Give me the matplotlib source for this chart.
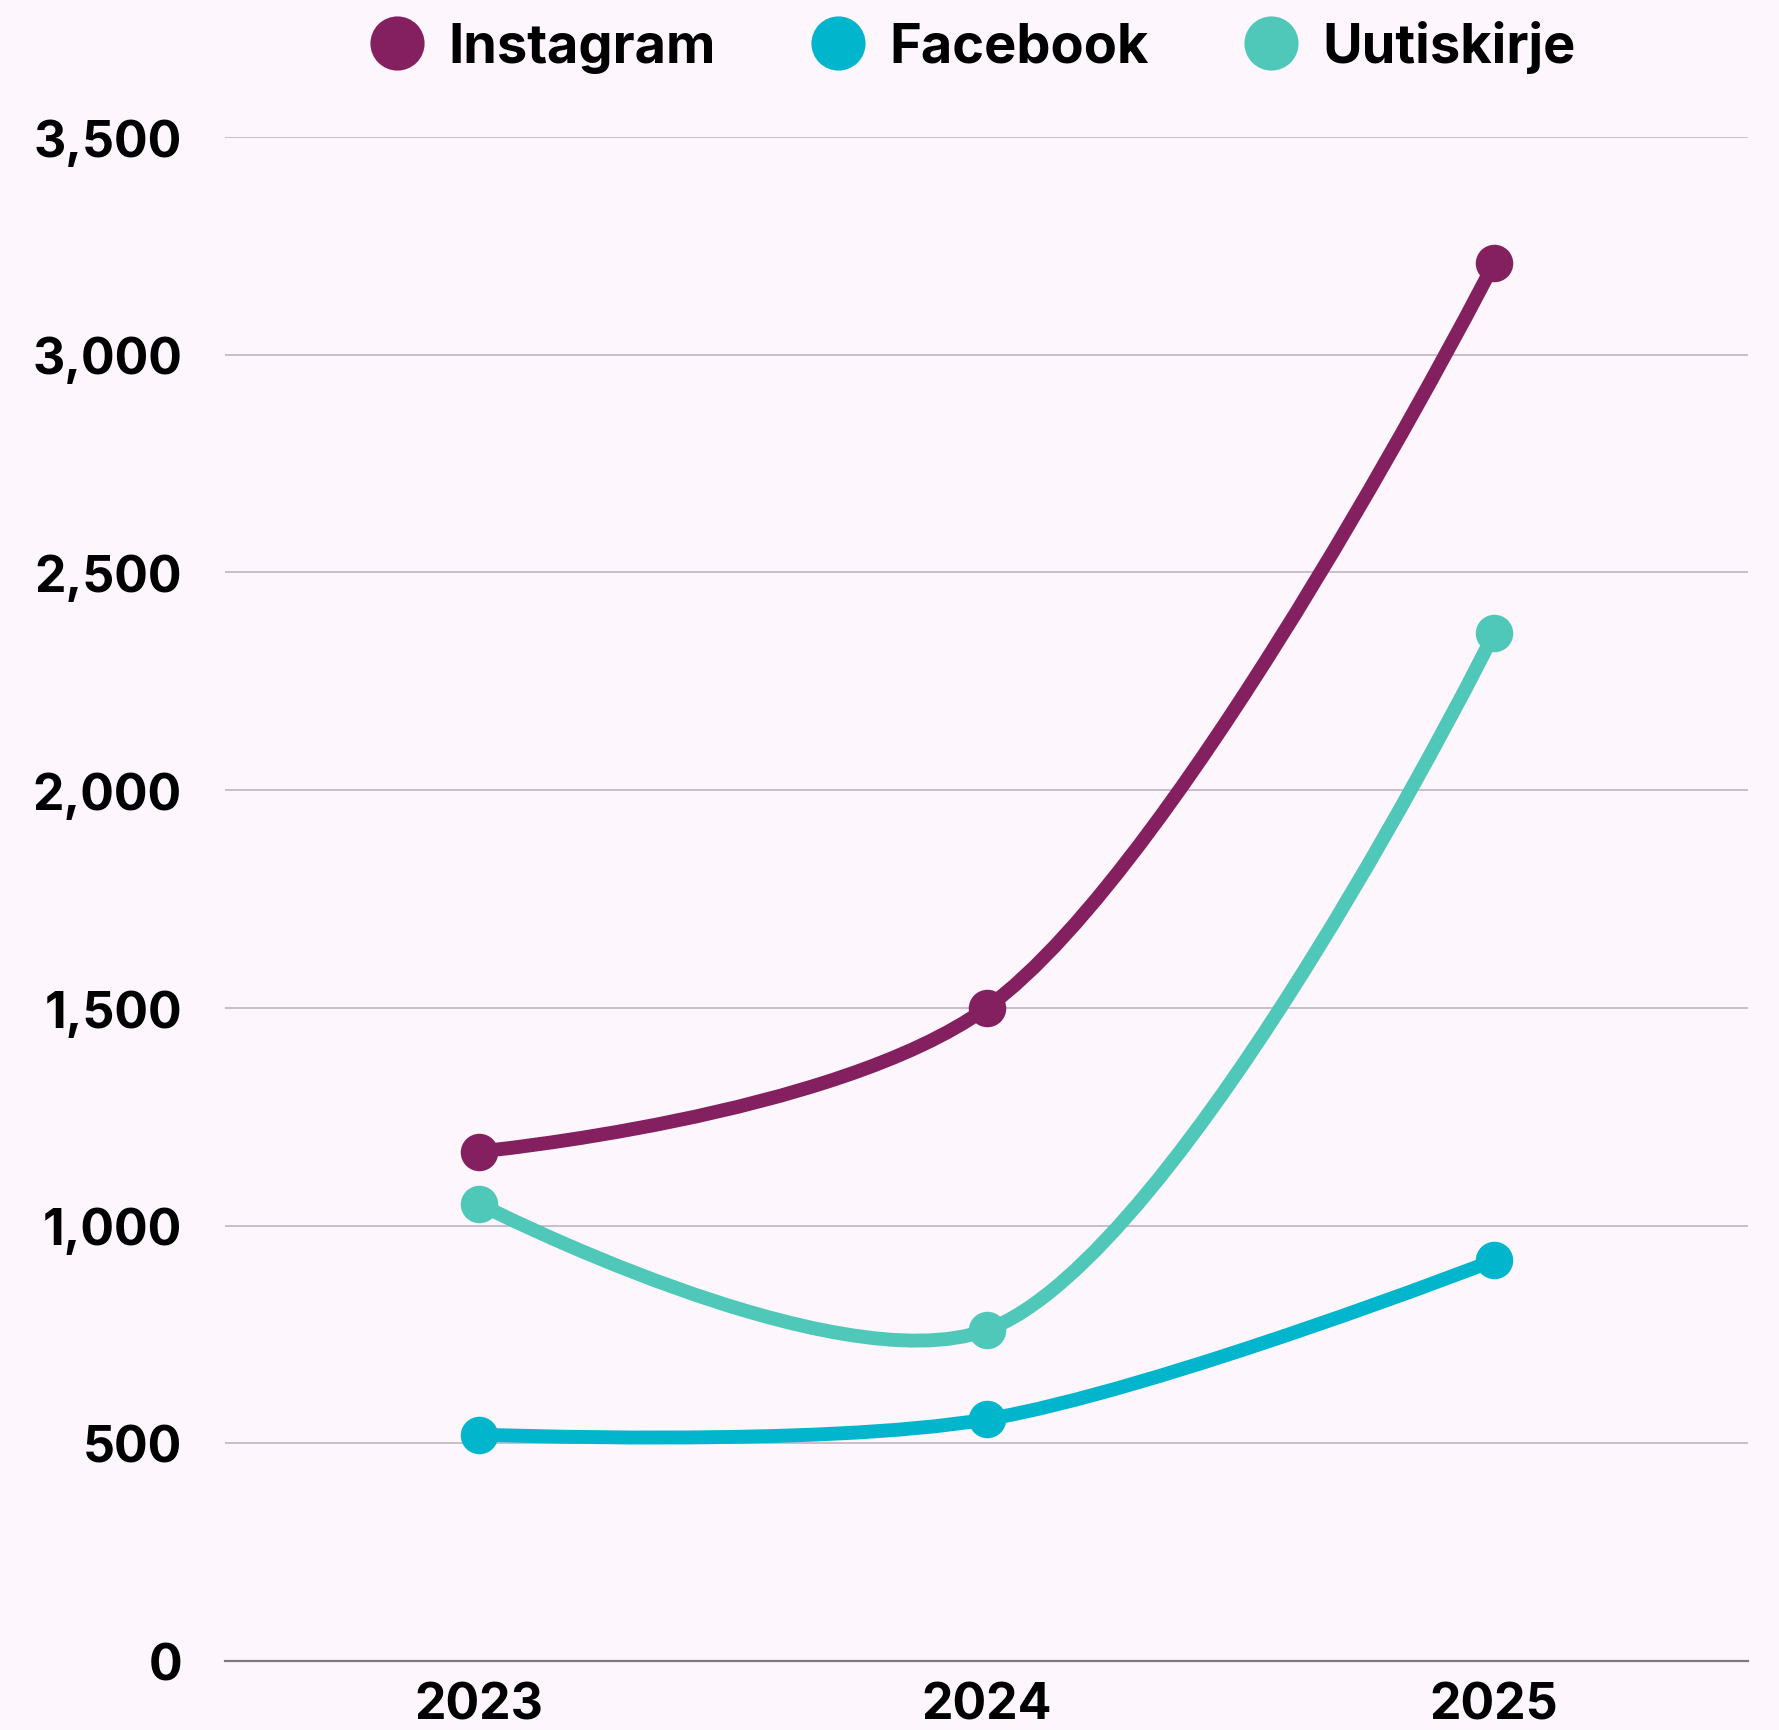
import numpy as np
import matplotlib.pyplot as plt
from matplotlib.path import Path
from matplotlib.patches import PathPatch
from matplotlib.lines import Line2D

# data
years = ["2023", "2024", "2025"]
instagram = [1170, 1500, 3210]
facebook = [520, 555, 920]
uutiskirje = [1050, 760, 2360]

series_names = ["Instagram", "Facebook", "Uutiskirje"]
series_values = [instagram, facebook, uutiskirje]
series_colors = ["#84205F", "#00B5CC", "#4FC8BA"]

y_ticks = [0, 500, 1000, 1500, 2000, 2500, 3000, 3500]

BG = "#FDF6FD"


def catmull_rom_path(ax, xs, ys, alpha=0.5):
    # centripetal catmull-rom (same maths as d3.curveCatmullRom), pixel space
    pts = ax.transData.transform(np.column_stack([xs, ys]))
    n = len(pts)
    eps = 1e-12
    verts = [pts[0]]
    codes = [Path.MOVETO]
    for i in range(n - 1):
        p0 = pts[i - 1] if i > 0 else pts[i]
        p1, p2 = pts[i], pts[i + 1]
        p3 = pts[i + 2] if i + 2 < n else pts[i + 1]
        l01 = np.hypot(*(p1 - p0))
        l12 = np.hypot(*(p2 - p1))
        l23 = np.hypot(*(p3 - p2))
        l01a, l12a, l23a = l01 ** alpha, l12 ** alpha, l23 ** alpha
        l01_2a, l12_2a, l23_2a = l01 ** (2 * alpha), l12 ** (2 * alpha), l23 ** (2 * alpha)
        c1 = p1.copy()
        if l01a > eps:
            a = 2 * l01_2a + 3 * l01a * l12a + l12_2a
            m = 3 * l01a * (l01a + l12a)
            c1 = (p1 * a - p0 * l12_2a + p2 * l01_2a) / m
        c2 = p2.copy()
        if l23a > eps:
            b = 2 * l23_2a + 3 * l23a * l12a + l12_2a
            m = 3 * l23a * (l23a + l12a)
            c2 = (p2 * b + p1 * l23_2a - p3 * l12_2a) / m
        verts += [c1, c2, p2]
        codes += [Path.CURVE4] * 3
    verts = ax.transData.inverted().transform(np.array(verts))
    return Path(verts, codes)


def main():
    plt.rcParams["font.family"] = ["Inter", "DejaVu Sans"]
    plt.rcParams["font.weight"] = "bold"

    W, H = 1779, 1731
    fig = plt.figure(figsize=(W / 100, H / 100), dpi=100, facecolor=BG)
    ax = fig.add_axes([225 / W, 1 - 1662 / H, (1748 - 225) / W, (1662 - 138) / H])
    ax.set_facecolor(BG)

    x = np.arange(len(years))
    ax.set_xlim(-0.5, 2.5)
    ax.set_ylim(0, 3500)

    # -------------------------
    # lines + markers
    # -------------------------
    for vals, color in zip(series_values, series_colors):
        path = catmull_rom_path(ax, x, vals)
        ax.add_patch(PathPatch(path, facecolor="none", edgecolor=color, lw=10,
                               capstyle="round", joinstyle="round", zorder=3))
        ax.plot(x, vals, "o", ms=27, color=color, mew=0, zorder=4, clip_on=False)

    # -------------------------
    # axes styling
    # -------------------------
    ax.set_yticks(y_ticks)
    ax.set_yticklabels([f"{v:,}" for v in y_ticks])
    ax.set_xticks(x)
    ax.set_xticklabels(years)
    ax.yaxis.grid(True, color="#C8BEC9", lw=1.4)
    ax.set_axisbelow(True)
    for side in ["left", "right", "top"]:
        ax.spines[side].set_visible(False)
    ax.spines["bottom"].set_color("#7E787F")
    ax.spines["bottom"].set_linewidth(1.6)
    ax.tick_params(axis="both", length=0, labelsize=36, colors="#000000")
    ax.tick_params(axis="y", pad=31)
    ax.tick_params(axis="x", pad=15)

    # legend
    handles = [Line2D([], [], marker="o", ls="", ms=39, color=c, mew=0)
               for c in series_colors]
    ax.legend(handles, series_names, ncol=3, loc="center",
              bbox_to_anchor=(0.491, 1.0597), frameon=False, fontsize=39,
              handlelength=1.0, handletextpad=0.45, columnspacing=1.75)

    fig.savefig("out.png", dpi=100, facecolor=BG)
    plt.close(fig)


if __name__ == "__main__":
    main()
